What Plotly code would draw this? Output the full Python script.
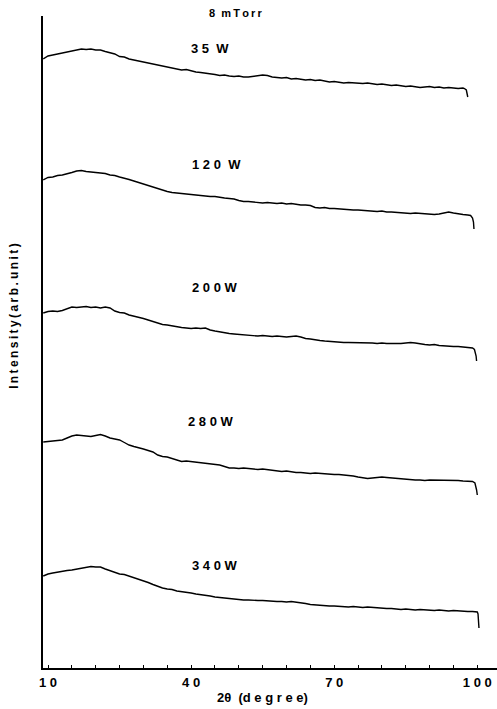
import plotly.graph_objects as go

# 2-theta grid (degrees)
two_theta = list(range(9, 101))

# Intensities (arb. unit, curves offset vertically as in the figure)
i_35w = [609, 612, 613, 614, 614.5, 616, 616.5, 618, 619, 618.5, 619, 618, 618, 616.5, 615, 614,
         611.5, 611, 609, 608, 607.5, 606, 605.5, 604, 603, 602, 601, 600.5, 599, 598, 598.5, 597,
         596, 595.5, 595, 594, 593.5, 592.5, 593, 592, 591.5, 592, 591, 591, 591.5, 592, 593, 592.5,
         591, 590.5, 590, 590.5, 589, 589.5, 589, 588, 588.5, 587.5, 588, 587, 586, 586.5, 585.5,
         585, 585.5, 585, 585, 584.5, 585, 584, 583.5, 584, 583, 582.5, 583, 582, 581.5, 582, 581,
         580.5, 581, 581.5, 580.5, 581, 580, 580.5, 580, 579.5, 580]
tail_x_35w = [97.3, 97.7, 97.9, 98.0]
tail_i_35w = [579.5, 578, 575, 571]

i_120w = [488, 490.5, 491, 492.5, 493, 494, 495.5, 497, 497.5, 496.5, 496, 496, 495, 494.5, 493,
          492.5, 491, 490, 488.5, 487, 485.5, 484, 482, 480.5, 479, 478, 476.5, 475.5, 475, 474,
          473.5, 473, 472.5, 472.5, 472, 471.5, 471.5, 470.5, 470, 469.5, 469, 467.5, 466.5, 466.5,
          466, 465.5, 465, 465.5, 465, 464.5, 465, 464, 464.5, 463.5, 463, 463, 462.5, 460.5, 460,
          460.5, 459.5, 459.5, 459, 459, 458.5, 458, 458, 457.5, 457.5, 457, 456.5, 457, 456, 456,
          455.5, 455, 455, 454.5, 455, 454.5, 454, 454, 453.5, 454, 455, 456, 455, 454, 453.5, 453]
tail_x_120w = [98.6, 99.0, 99.2, 99.3]
tail_i_120w = [452.5, 450, 446, 439]

i_200w = [355, 356.5, 357, 356.5, 357.5, 359.5, 361, 360.5, 361, 361.5, 360.5, 361, 360, 361, 360,
          357, 355.5, 355, 353, 352, 350.5, 349.5, 348, 346.5, 344.5, 343.5, 343, 342, 341, 340.5,
          340, 339.5, 340, 339.5, 340, 338, 337, 336, 335.5, 334.5, 334, 333.5, 333, 332.5, 332.5,
          332, 332.5, 332, 331.5, 332, 331.5, 331, 331.5, 332, 331, 329.5, 329, 328, 327.5, 327,
          326.5, 326.5, 326, 325.5, 325.5, 325.5, 325, 325.5, 325, 325, 324.5, 325, 324.5, 324.5,
          324, 324.5, 325, 325.5, 325, 324, 323.5, 323, 323.5, 322.5, 322, 321.5, 321.5, 321.5,
          321, 321, 320]
tail_x_200w = [99.4, 99.6, 99.75, 99.85]
tail_i_200w = [318.5, 316, 312, 307]

i_280w = [226, 226.5, 227, 227.5, 228, 230, 232, 233, 232.5, 232, 231.5, 232.5, 233.5, 232, 230,
          229, 228, 225.5, 223, 221.5, 220.5, 219, 217.5, 216, 213, 211.5, 211, 209.5, 208, 206.5,
          207, 206.5, 206, 205.5, 205, 204.5, 203.5, 203, 201.5, 200, 200, 199.5, 200, 199.5, 199,
          198.5, 199, 198.5, 197.5, 197, 196.5, 197, 196, 195.5, 195.5, 195, 194.5, 195, 194.5, 194,
          194, 193.5, 193.5, 193, 193, 192, 191, 190, 189.5, 190, 190.5, 191, 190.5, 190, 189.5,
          189.5, 189, 188.5, 188, 188, 187.5, 188, 188, 188, 187.5, 188, 187.5, 187.5, 187, 187,
          186.5]
tail_x_280w = [99.5, 99.7, 99.85, 100.0]
tail_i_280w = [185, 182, 178, 173]

i_340w = [92, 94, 95, 96, 96.5, 97.5, 98, 99, 99.5, 101, 101.5, 101, 101, 99, 97.5, 95.5, 94, 93.5,
          92, 90.5, 89, 87, 85.5, 83.5, 81.5, 80, 79, 78.5, 77, 76.5, 75.5, 75, 74, 73.5, 72.5, 72,
          71, 70.5, 69.5, 69, 69, 68.5, 68, 68, 67.5, 67.5, 67.5, 67, 67, 66.5, 66.5, 66, 66.5, 66,
          65.5, 64.5, 63.5, 63, 63, 62.5, 62, 62, 61.5, 61.5, 61, 61.5, 61, 60.5, 61, 60.5, 60, 60,
          59.5, 59.5, 59, 58.5, 59, 58.5, 58, 58.5, 58, 58, 57.5, 58, 57.5, 57, 57.5, 57, 57, 56.5,
          56.5, 56]
tail_x_340w = [100.15, 100.25, 100.35]
tail_i_340w = [54, 49, 40]

series = [
    ("35 W", i_35w, tail_x_35w, tail_i_35w),
    ("120 W", i_120w, tail_x_120w, tail_i_120w),
    ("200 W", i_200w, tail_x_200w, tail_i_200w),
    ("280 W", i_280w, tail_x_280w, tail_i_280w),
    ("340 W", i_340w, tail_x_340w, tail_i_340w),
]

# curve labels: text, x (deg), y (intensity)
label_text = ["3 5\u00a0\u00a0W", "1\u00a02\u00a00\u00a0\u00a0W", "2\u00a00\u00a00\u00a0W",
              "2\u00a08\u00a00\u00a0W", "3\u00a04\u00a00\u00a0W"]
label_x = [44.0, 45.3, 45.0, 44.1, 45.1]
label_y = [620, 504, 381, 247, 103]

tick_vals = [10, 40, 70, 100]
tick_text = ["1\u00a00", "4\u00a00", "7\u00a00", "1\u00a00\u00a00"]

fig = go.Figure()
for name, vals, tx, ti in series:
    xs = two_theta[:len(vals)] + tx
    ys = vals + ti
    fig.add_trace(go.Scatter(x=xs, y=ys, mode="lines", name=name,
                             line=dict(color="black", width=1.4), showlegend=False))

FONT = "Liberation Sans, Arial, sans-serif"
for t, x, y in zip(label_text, label_x, label_y):
    fig.add_annotation(x=x, y=y, text=t, showarrow=False, xanchor="center", yanchor="middle",
                       font=dict(family=FONT, size=13, color="black", weight="bold"))

TS = "\u2009"
fig.add_annotation(x=49.5, y=1.0 + 3 / 652, yref="paper", text="8\u00a0\u00a0m" + TS + "T" + TS + "o" + TS + "r" + TS + "r",
                   showarrow=False, xanchor="center", yanchor="middle",
                   font=dict(family=FONT, size=11, color="black", weight="bold"))
fig.add_annotation(x=54.9, y=-0.045, yref="paper", text="2\u03b8\u00a0\u00a0(d e g r e e)",
                   showarrow=False, xanchor="center", yanchor="middle",
                   font=dict(family=FONT, size=13, color="black", weight="bold"))
ytitle = TS.join(list("Intensity(arb.")) + "\u00a0" + TS.join(list("unit)"))
fig.add_annotation(x=-0.064, xref="paper", y=0.54, yref="paper",
                   text=ytitle, textangle=-90, showarrow=False,
                   xanchor="center", yanchor="middle",
                   font=dict(family=FONT, size=12, color="black", weight="bold"))

fig.update_layout(
    width=497, height=709,
    margin=dict(l=43, r=0, t=16, b=41),
    paper_bgcolor="white", plot_bgcolor="white",
    xaxis=dict(range=[8.95, 104.13], showgrid=False, zeroline=False,
               showline=True, linecolor="black", linewidth=1.6,
               tickmode="array", tickvals=tick_vals, ticktext=tick_text,
               ticks="inside", ticklen=3, tickcolor="black", tickwidth=1,
               ticklabelstandoff=2,
               tickfont=dict(family=FONT, size=13, color="black", weight="bold"),
               minor=dict(ticks="inside", dtick=5, tick0=10, ticklen=3, tickcolor="black",
                          showgrid=False)),
    yaxis=dict(range=[0, 652], showgrid=False, zeroline=False, showticklabels=False,
               showline=True, linecolor="black", linewidth=1.6, ticks=""),
)

fig.write_html("out.html")
